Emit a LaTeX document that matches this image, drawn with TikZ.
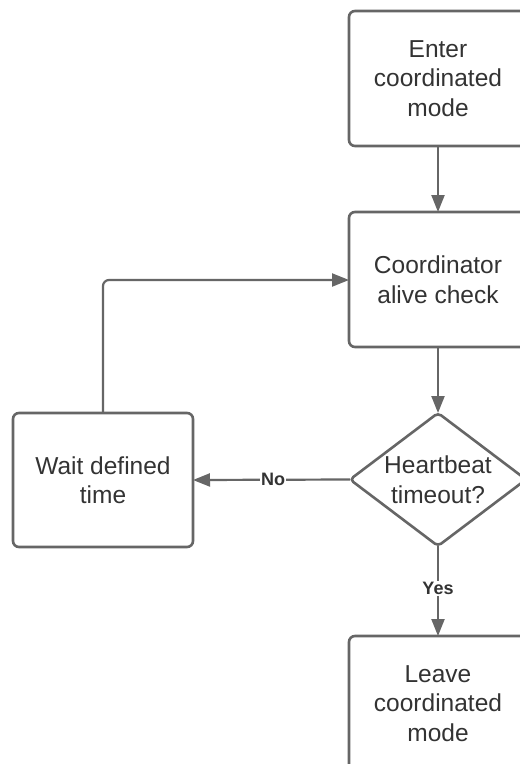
\documentclass[tikz,border=0pt]{standalone}
\usepackage{fontspec}
\setmainfont{Liberation Sans}
\usetikzlibrary{shapes.geometric,arrows.meta}
\definecolor{linegray}{HTML}{666666}
\definecolor{textgray}{HTML}{333333}
\begin{document}
\begin{tikzpicture}[x=1pt,y=-1pt,
  every node/.style={text=textgray},
  flowbox/.style={draw=linegray, line width=2.6pt, rounded corners=6pt, fill=white,
    minimum width=178pt, minimum height=135pt, align=center, inner sep=0pt, outer sep=0pt,
    font=\fontsize{24.5}{29.5}\selectfont},
  decision/.style={draw=linegray, line width=2.6pt, diamond, rounded corners=4pt, fill=white,
    minimum width=176pt, minimum height=133pt, inner sep=0pt, outer sep=0pt, aspect=1.32},
  flow/.style={draw=linegray, line width=2.2pt, -{Triangle[length=17pt,width=13pt]}},
  edgelabel/.style={fill=white, inner sep=1pt, font=\fontsize{18}{20}\selectfont\bfseries}]
\clip (0,0) rectangle (520,764);
\fill[white] (0,0) rectangle (520,764);

\node[flowbox] (enter) at (438,78.5) {Enter\\coordinated\\mode};
\node[flowbox] (check) at (438,279.5) {Coordinator\\alive check};
\node[decision] (timeout) at (438,479.5) {};
\node[font=\fontsize{24.5}{30.5}\selectfont, align=center] (timeouttext) at (438,479.5) {Heartbeat\\timeout?};
\node[flowbox, minimum width=180pt, minimum height=134pt] (wait) at (103,480) {Wait defined\\time};
\node[flowbox] (leave) at (438,703.5) {Leave\\coordinated\\mode};

\draw[flow] (enter) -- (check);
\draw[flow] (check) -- (timeout);
\draw[flow] (timeout.west) -- node[edgelabel, pos=0.49] {No} (wait.east);
\draw[flow] (timeout.south) -- node[edgelabel, pos=0.47] {Yes} (leave.north);
\draw[flow, rounded corners=6pt] (wait.north) |- (check.west |- 0,280);
\end{tikzpicture}
\end{document}
